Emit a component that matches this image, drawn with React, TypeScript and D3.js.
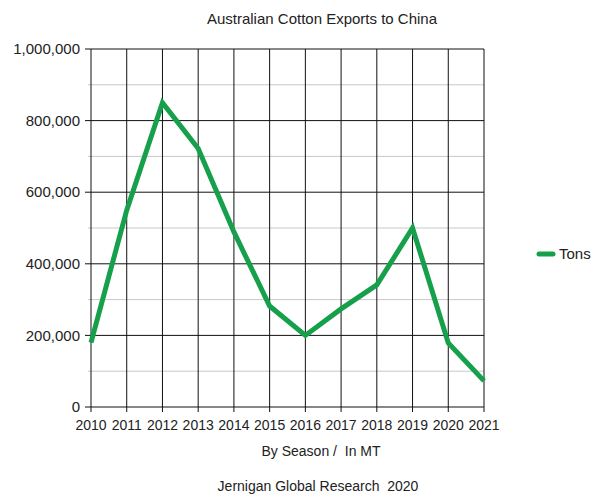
import * as d3 from "d3"

const years = ["2010", "2011", "2012", "2013", "2014", "2015", "2016", "2017", "2018", "2019", "2020", "2021"]
const tons = [180000, 550000, 850000, 722000, 489000, 282000, 200000, 274000, 341000, 500000, 179000, 73000]
const majorTicks = [0, 200000, 400000, 600000, 800000, 1000000]
const minorTicks = [100000, 300000, 500000, 700000, 900000]

const width = 596
const height = 494
const margin = { top: 49, right: 112, bottom: 87, left: 91 }
const font = "'Liberation Sans', Arial, sans-serif"

export default function App() {
  const innerW = width - margin.left - margin.right
  const innerH = height - margin.top - margin.bottom

  const x = d3.scalePoint<string>().domain(years).range([0, innerW])
  const y = d3.scaleLinear().domain([0, 1000000]).range([innerH, 0])
  const fmt = d3.format(",")

  const line = d3
    .line<number>()
    .x((_, i) => x(years[i]) as number)
    .y((d) => y(d))

  return (
    <svg width={width} height={height} style={{ position: "absolute", left: 0, top: 0, fontFamily: font }}>
      <rect width={width} height={height} fill="white" />
      <text x={322} y={24} textAnchor="middle" fontSize={15} fill="#222">
        Australian Cotton Exports to China
      </text>
      <g transform={`translate(${margin.left},${margin.top})`}>
        {/* minor gridlines */}
        {minorTicks.map((t) => (
          <line key={"m" + t} x1={-3} x2={innerW} y1={y(t)} y2={y(t)} stroke="#c8c8c8" strokeWidth={1} />
        ))}
        {/* major gridlines + ticks */}
        {majorTicks.map((t) => (
          <g key={"M" + t}>
            <line x1={-6} x2={innerW} y1={y(t)} y2={y(t)} stroke="#111" strokeWidth={1} />
            <text x={-11} y={y(t)} dy="0.35em" textAnchor="end" fontSize={15} fill="#222">
              {fmt(t)}
            </text>
          </g>
        ))}
        {/* vertical gridlines */}
        {years.map((yr) => (
          <g key={yr}>
            <line x1={x(yr)} x2={x(yr)} y1={0} y2={innerH + 5} stroke="#111" strokeWidth={1} />
            <text x={x(yr)} y={innerH + 23} textAnchor="middle" fontSize={14} fill="#222">
              {yr}
            </text>
          </g>
        ))}
        <path d={line(tons) || ""} fill="none" stroke="#17a04b" strokeWidth={5} strokeLinejoin="miter" />
      </g>
      <text x={321} y={456} textAnchor="middle" fontSize={14} fill="#222" xmlSpace="preserve">
        By Season /  In MT
      </text>
      <text x={318} y={491} textAnchor="middle" fontSize={14} fill="#222" xmlSpace="preserve">
        Jernigan Global Research  2020
      </text>
      {/* legend */}
      <line x1={539} x2={553} y1={254} y2={254} stroke="#17a04b" strokeWidth={5} strokeLinecap="round" />
      <text x={559} y={254} dy="0.35em" fontSize={15} fill="#222">
        Tons
      </text>
    </svg>
  )
}
